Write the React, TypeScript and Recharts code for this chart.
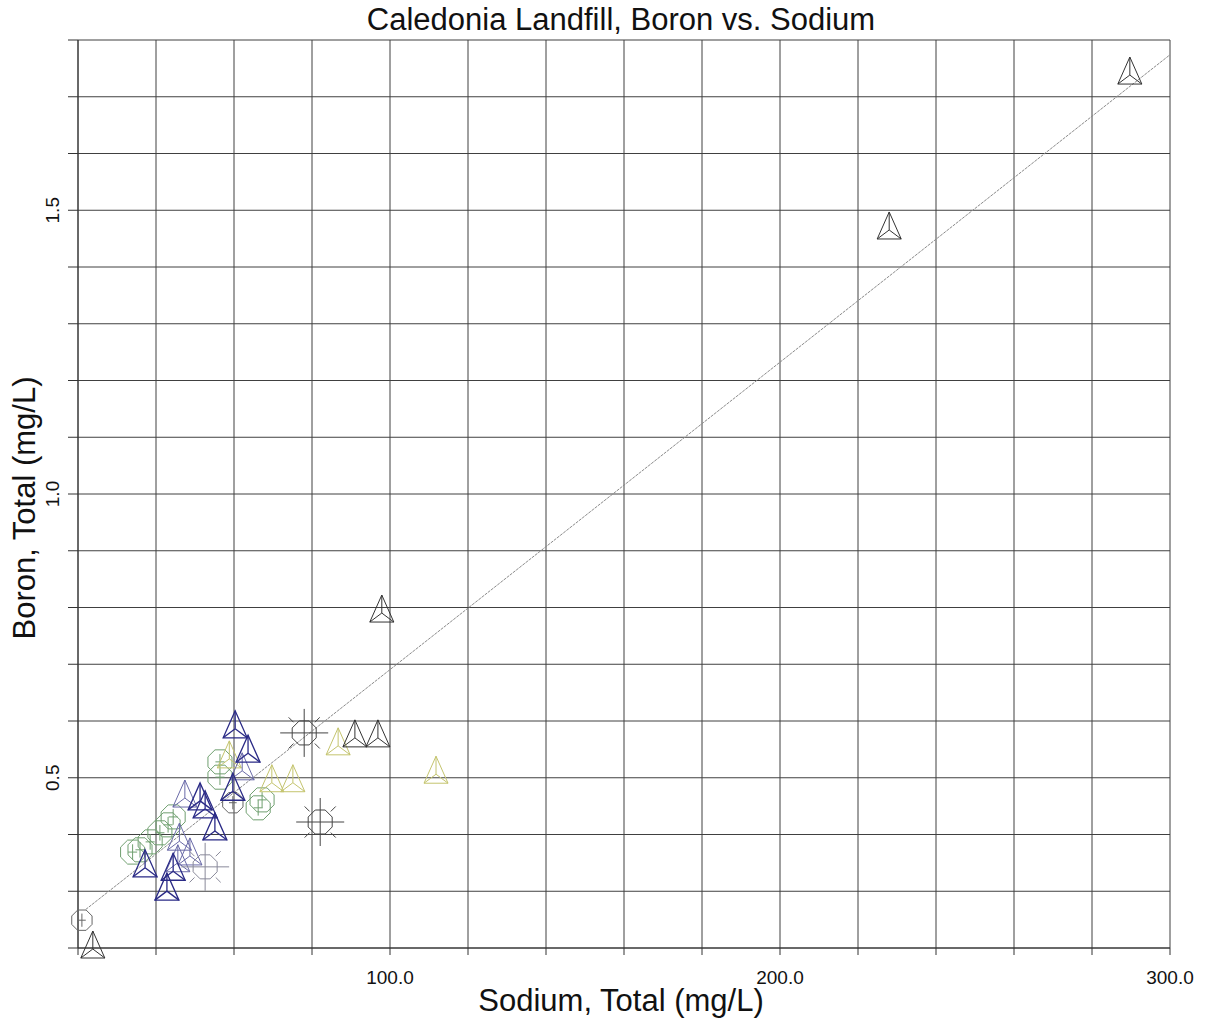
import React from 'react';
import { ScatterChart, Scatter, XAxis, YAxis, CartesianGrid, ReferenceLine, Label } from 'recharts';

const FONT = '"Liberation Sans", Arial, Helvetica, sans-serif';

// Tick values
const xTicks = [20, 40, 60, 80, 100, 120, 140, 160, 180, 200, 220, 240, 260, 280, 300];
const yTicks = [0.2, 0.3, 0.4, 0.5, 0.6, 0.7, 0.8, 0.9, 1.0, 1.1, 1.2, 1.3, 1.4, 1.5, 1.6, 1.7, 1.8];
const xLabelTicks = [100, 200, 300];
const yLabelTicks = [0.5, 1.0, 1.5];

// Series (na = Sodium mg/L, b = Boron mg/L)
const blackTriangles = [
  { na: 289.7, b: 1.74 },
  { na: 228.0, b: 1.467 },
  { na: 97.9, b: 0.792 },
  { na: 91.0, b: 0.572 },
  { na: 96.9, b: 0.572 },
  { na: 23.8, b: 0.2 },
];
const navyTriangles = [
  { na: 60.3, b: 0.588 },
  { na: 63.6, b: 0.545 },
  { na: 59.7, b: 0.478 },
  { na: 51.3, b: 0.461 },
  { na: 52.6, b: 0.447 },
  { na: 55.1, b: 0.408 },
  { na: 37.2, b: 0.343 },
  { na: 42.8, b: 0.302 },
  { na: 44.4, b: 0.337 },
];
const lightNavyTriangles = [
  { na: 62.1, b: 0.514 },
  { na: 47.4, b: 0.466 },
  { na: 45.6, b: 0.352 },
  { na: 48.7, b: 0.364 },
  { na: 46.0, b: 0.39 },
];
const oliveTriangles = [
  { na: 86.7, b: 0.558 },
  { na: 69.7, b: 0.493 },
  { na: 75.1, b: 0.493 },
  { na: 111.8, b: 0.508 },
  { na: 58.8, b: 0.535 },
];
const greenOctagons = [
  { na: 56.4, b: 0.528 },
  { na: 56.4, b: 0.501 },
  { na: 67.2, b: 0.461 },
  { na: 66.2, b: 0.447 },
  { na: 44.4, b: 0.431 },
  { na: 43.1, b: 0.417 },
  { na: 41.0, b: 0.403 },
  { na: 38.5, b: 0.387 },
  { na: 35.9, b: 0.373 },
  { na: 34.0, b: 0.369 },
];
const grayRayOctagons = [
  { na: 78.0, b: 0.579 },
  { na: 82.1, b: 0.422 },
];
const lightGrayRayOctagons = [{ na: 52.6, b: 0.343 }];
const grayOctagons = [
  { na: 21.0, b: 0.249 },
  { na: 59.7, b: 0.456 },
];
const fitLine = [
  { na: 22, b: 0.268 },
  { na: 300, b: 1.774 },
];

function triangle(color: string, sw = 1) {
  return (p: any) => {
    const { cx, cy } = p;
    if (cx == null || cy == null) return <g />;
    const t = [cx, cy - 17];
    const l = [cx - 12, cy + 10];
    const r = [cx + 12, cy + 10];
    const c = [cx, cy + 1];
    return (
      <g fill="none" stroke={color} strokeWidth={sw}>
        <polygon points={`${t[0]},${t[1]} ${l[0]},${l[1]} ${r[0]},${r[1]}`} />
        <line x1={c[0]} y1={c[1]} x2={t[0]} y2={t[1]} />
        <line x1={c[0]} y1={c[1]} x2={l[0]} y2={l[1]} />
        <line x1={c[0]} y1={c[1]} x2={r[0]} y2={r[1]} />
      </g>
    );
  };
}

function octPoints(cx: number, cy: number, r: number) {
  const pts: string[] = [];
  for (let k = 0; k < 8; k++) {
    const a = ((22.5 + 45 * k) * Math.PI) / 180;
    pts.push(`${cx + r * Math.cos(a)},${cy + r * Math.sin(a)}`);
  }
  return pts.join(' ');
}

function octagon(color: string, r: number, mode: 'rays' | 'inner') {
  return (p: any) => {
    const { cx, cy } = p;
    if (cx == null || cy == null) return <g />;
    const rays: any[] = [];
    if (mode === 'rays') {
      for (let k = 0; k < 4; k++) {
        const a = ((45 + 90 * k) * Math.PI) / 180;
        rays.push(
          <line key={k} x1={cx + (r + 2) * Math.cos(a)} y1={cy + (r + 2) * Math.sin(a)}
            x2={cx + (r + 9) * Math.cos(a)} y2={cy + (r + 9) * Math.sin(a)} />
        );
      }
    }
    return (
      <g fill="none" stroke={color} strokeWidth={1}>
        <polygon points={octPoints(cx, cy, r)} />
        {mode === 'rays' ? (
          <>
            <line x1={cx - r - 11} y1={cy} x2={cx + r + 11} y2={cy} />
            <line x1={cx} y1={cy - r - 11} x2={cx} y2={cy + r + 11} />
            {rays}
          </>
        ) : (
          <>
            <line x1={cx} y1={cy - r * 0.6} x2={cx} y2={cy + r * 0.6} />
            <line x1={cx - r * 0.35} y1={cy} x2={cx + r * 0.35} y2={cy} />
          </>
        )}
      </g>
    );
  };
}

const XTick = (p: any) => {
  const v = p.payload?.value;
  if (!xLabelTicks.includes(v)) return <g />;
  return (
    <text x={p.x} y={984} textAnchor="middle" fontFamily={FONT} fontSize={19} fill="#111">
      {v.toFixed(1)}
    </text>
  );
};

const YTick = (p: any) => {
  const v = p.payload?.value;
  if (!yLabelTicks.some((t) => Math.abs(t - v) < 1e-9)) return <g />;
  return (
    <text x={59} y={p.y} transform={`rotate(-90 59 ${p.y})`} textAnchor="middle"
      fontFamily={FONT} fontSize={19} fill="#111">
      {v.toFixed(1)}
    </text>
  );
};

export default function App() {
  return (
    <div style={{ position: 'absolute', left: 0, top: 0, width: 1210, height: 1019, background: '#fff' }}>
      <div style={{ position: 'absolute', left: 0, top: 2, width: 1242, textAlign: 'center',
        fontFamily: FONT, fontSize: 31, color: '#111', lineHeight: '36px', whiteSpace: 'nowrap' }}>
        Caledonia Landfill, Boron vs. Sodium
      </div>
      <ScatterChart width={1210} height={1019} margin={{ top: 40, right: 40, bottom: 21, left: 18 }}>
        <CartesianGrid stroke="#404040" strokeWidth={1} horizontalValues={yTicks} verticalValues={xTicks} />
        <XAxis type="number" dataKey="na" domain={[20, 300]} ticks={xTicks} interval={0}
          height={50} tick={XTick} tickSize={7} stroke="#333"
          label={
            <Label content={() => (
              <text x={621} y={1011} textAnchor="middle" fontFamily={FONT} fontSize={31} fill="#111">
                Sodium, Total (mg/L)
              </text>
            )} />
          } />
        <YAxis type="number" dataKey="b" domain={[0.2, 1.8]} ticks={yTicks} interval={0}
          width={60} tick={YTick} tickSize={10} stroke="#333"
          label={
            <Label content={() => (
              <text x={35} y={508} transform="rotate(-90 35 508)" textAnchor="middle"
                fontFamily={FONT} fontSize={31} fill="#111">
                Boron, Total (mg/L)
              </text>
            )} />
          } />
        <ReferenceLine segment={[{ x: fitLine[0].na, y: fitLine[0].b }, { x: fitLine[1].na, y: fitLine[1].b }]}
          stroke="#8a8a8a" strokeWidth={1} strokeDasharray="3 1" ifOverflow="visible" />
        <Scatter data={greenOctagons} isAnimationActive={false} shape={octagon('#6f9f6f', 13, 'inner')} />
        <Scatter data={oliveTriangles} isAnimationActive={false} shape={triangle('#c4c46e')} />
        <Scatter data={lightNavyTriangles} isAnimationActive={false} shape={triangle('#6a6aa8')} />
        <Scatter data={grayOctagons} isAnimationActive={false} shape={octagon('#666', 11, 'inner')} />
        <Scatter data={lightGrayRayOctagons} isAnimationActive={false} shape={octagon('#8a8a9a', 13, 'rays')} />
        <Scatter data={grayRayOctagons} isAnimationActive={false} shape={octagon('#444', 13, 'rays')} />
        <Scatter data={navyTriangles} isAnimationActive={false} shape={triangle('#2a2a86', 1.3)} />
        <Scatter data={blackTriangles} isAnimationActive={false} shape={triangle('#333')} />
      </ScatterChart>
    </div>
  );
}
